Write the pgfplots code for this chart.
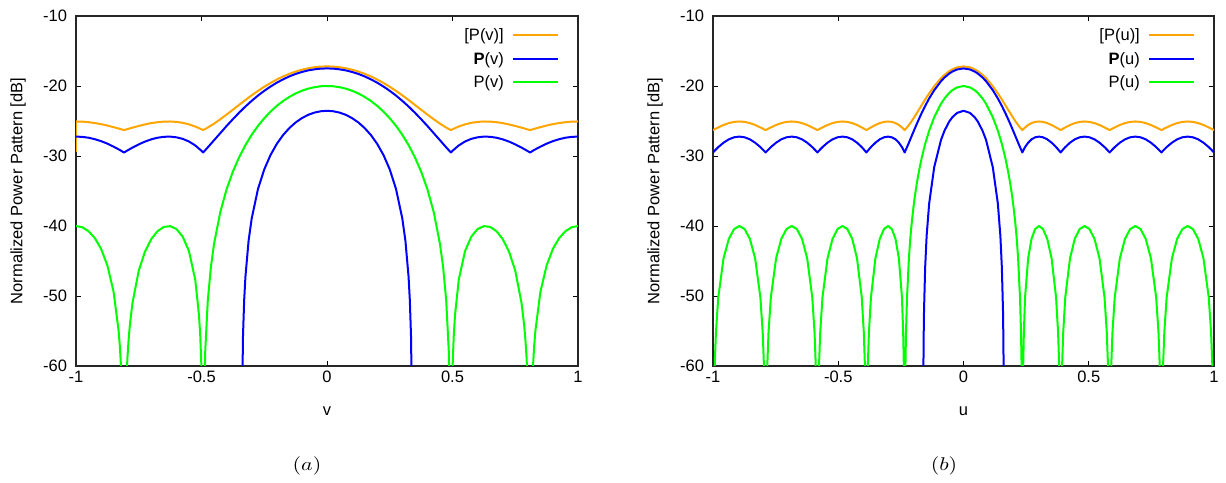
\documentclass[border=0pt]{standalone}
\usepackage[no-math]{fontspec}
\setmainfont{Liberation Sans}
\usepackage{pgfplots}
\pgfplotsset{compat=1.18}
\usepackage{pgfplotstable}
\definecolor{cOrange}{RGB}{255,165,0}
\definecolor{cBlue}{RGB}{0,0,255}
\definecolor{cGreen}{RGB}{0,255,0}

% ---------------- panel (a) ----------------
\pgfplotstableread{
x y
-1 -40.00
-0.975 -40.18
-0.95 -40.74
-0.925 -41.73
-0.9 -43.27
-0.875 -45.63
-0.85 -49.44
-0.83 -55.05
-0.825 -57.35
-0.82 -60.53
-0.815 -65.63
-0.8088 -100
-0.8 -62.65
-0.795 -58.74
-0.79 -56.05
-0.785 -54.01
-0.775 -51.00
-0.75 -46.38
-0.725 -43.64
-0.7 -41.86
-0.675 -40.73
-0.65 -40.13
-0.625 -40.02
-0.6 -40.43
-0.575 -41.51
-0.55 -43.58
-0.525 -47.66
-0.51 -52.73
-0.505 -55.68
-0.5 -60.43
-0.497 -65.63
-0.4935 -100
-0.49 -65.74
-0.485 -57.78
-0.475 -50.68
-0.4625 -45.83
-0.45 -42.55
-0.425 -37.99
-0.4 -34.75
-0.375 -32.23
-0.35 -30.17
-0.325 -28.44
-0.3 -26.97
-0.275 -25.70
-0.25 -24.61
-0.225 -23.66
-0.2 -22.84
-0.175 -22.15
-0.15 -21.56
-0.125 -21.07
-0.1 -20.68
-0.075 -20.38
-0.05 -20.17
-0.025 -20.04
0 -20.00
0.025 -20.04
0.05 -20.17
0.075 -20.38
0.1 -20.68
0.125 -21.07
0.15 -21.56
0.175 -22.15
0.2 -22.84
0.225 -23.66
0.25 -24.61
0.275 -25.70
0.3 -26.97
0.325 -28.44
0.35 -30.17
0.375 -32.23
0.4 -34.75
0.425 -37.99
0.45 -42.55
0.4625 -45.83
0.475 -50.68
0.485 -57.78
0.49 -65.74
0.4935 -100
0.497 -65.63
0.5 -60.43
0.505 -55.68
0.51 -52.73
0.525 -47.66
0.55 -43.58
0.575 -41.51
0.6 -40.43
0.625 -40.02
0.65 -40.13
0.675 -40.73
0.7 -41.86
0.725 -43.64
0.75 -46.38
0.775 -51.00
0.785 -54.01
0.79 -56.05
0.795 -58.74
0.8 -62.65
0.8088 -100
0.815 -65.63
0.82 -60.53
0.825 -57.35
0.83 -55.05
0.85 -49.44
0.875 -45.63
0.9 -43.27
0.925 -41.73
0.95 -40.74
0.975 -40.18
1 -40.00
}\tabAG

\pgfplotstableread{
x bu ou
-1 -27.23 -25.07
-0.975 -27.27 -25.09
-0.95 -27.39 -25.17
-0.925 -27.60 -25.29
-0.9 -27.88 -25.45
-0.875 -28.24 -25.65
-0.85 -28.67 -25.88
-0.825 -29.15 -26.13
-0.8088 -29.50 -26.30
-0.8 -29.31 -26.21
-0.775 -28.80 -25.95
-0.75 -28.34 -25.71
-0.725 -27.94 -25.49
-0.7 -27.62 -25.30
-0.675 -27.39 -25.17
-0.65 -27.26 -25.09
-0.625 -27.23 -25.07
-0.6 -27.33 -25.13
-0.575 -27.55 -25.26
-0.55 -27.93 -25.48
-0.525 -28.49 -25.79
-0.5 -29.26 -26.18
-0.4935 -29.50 -26.30
-0.475 -28.77 -25.94
-0.45 -27.75 -25.38
-0.425 -26.73 -24.75
-0.4 -25.71 -24.08
-0.375 -24.74 -23.39
-0.35 -23.81 -22.69
-0.325 -22.93 -22.00
-0.3 -22.12 -21.33
-0.275 -21.37 -20.70
-0.25 -20.69 -20.11
-0.225 -20.08 -19.57
-0.2 -19.53 -19.08
-0.175 -19.05 -18.64
-0.15 -18.63 -18.26
-0.125 -18.28 -17.94
-0.1 -18.00 -17.67
-0.075 -17.77 -17.47
-0.05 -17.62 -17.32
-0.025 -17.52 -17.23
0 -17.49 -17.20
0.025 -17.52 -17.23
0.05 -17.62 -17.32
0.075 -17.77 -17.47
0.1 -18.00 -17.67
0.125 -18.28 -17.94
0.15 -18.63 -18.26
0.175 -19.05 -18.64
0.2 -19.53 -19.08
0.225 -20.08 -19.57
0.25 -20.69 -20.11
0.275 -21.37 -20.70
0.3 -22.12 -21.33
0.325 -22.93 -22.00
0.35 -23.81 -22.69
0.375 -24.74 -23.39
0.4 -25.71 -24.08
0.425 -26.73 -24.75
0.45 -27.75 -25.38
0.475 -28.77 -25.94
0.4935 -29.50 -26.30
0.5 -29.26 -26.18
0.525 -28.49 -25.79
0.55 -27.93 -25.48
0.575 -27.55 -25.26
0.6 -27.33 -25.13
0.625 -27.23 -25.07
0.65 -27.26 -25.09
0.675 -27.39 -25.17
0.7 -27.62 -25.30
0.725 -27.94 -25.49
0.75 -28.34 -25.71
0.775 -28.80 -25.95
0.8 -29.31 -26.21
0.8088 -29.50 -26.30
0.825 -29.15 -26.13
0.85 -28.67 -25.88
0.875 -28.24 -25.65
0.9 -27.88 -25.45
0.925 -27.60 -25.29
0.95 -27.39 -25.17
0.975 -27.27 -25.09
1 -27.23 -25.07
}\tabAU

\pgfplotstableread{
x y
-1 -29.50
-1 -25.07
}\tabAedge

\pgfplotstableread{
x y
-0.341 -100
-0.34 -73.46
-0.335 -56.04
-0.33 -50.60
-0.325 -47.26
-0.3125 -42.14
-0.3 -38.92
-0.275 -34.72
-0.25 -31.92
-0.225 -29.86
-0.2 -28.27
-0.175 -27.01
-0.15 -26.01
-0.125 -25.21
-0.1 -24.59
-0.075 -24.12
-0.05 -23.80
-0.025 -23.61
0 -23.54
0.025 -23.61
0.05 -23.80
0.075 -24.12
0.1 -24.59
0.125 -25.21
0.15 -26.01
0.175 -27.01
0.2 -28.27
0.225 -29.86
0.25 -31.92
0.275 -34.72
0.3 -38.92
0.3125 -42.14
0.325 -47.26
0.33 -50.60
0.335 -56.04
0.34 -73.46
0.341 -100
}\tabABL

% ---------------- panel (b) ----------------
\pgfplotstableread{
x g bu ou
-1.0000 -100 -29.50 -26.30
-0.9930 -59.62 -29.23 -26.17
-0.9883 -55.21 -29.06 -26.08
-0.9790 -50.20 -28.73 -25.92
-0.9579 -44.62 -28.10 -25.57
-0.9369 -41.84 -27.62 -25.30
-0.9158 -40.44 -27.33 -25.13
-0.8948 -40.00 -27.23 -25.07
-0.8738 -40.44 -27.33 -25.13
-0.8528 -41.84 -27.62 -25.30
-0.8319 -44.62 -28.10 -25.57
-0.8109 -50.20 -28.73 -25.92
-0.8016 -55.21 -29.06 -26.08
-0.7970 -59.62 -29.23 -26.17
-0.7900 -100 -29.50 -26.30
-0.7830 -59.62 -29.23 -26.17
-0.7784 -55.21 -29.06 -26.08
-0.7691 -50.20 -28.73 -25.92
-0.7482 -44.62 -28.10 -25.57
-0.7274 -41.84 -27.62 -25.30
-0.7067 -40.44 -27.33 -25.13
-0.6859 -40.00 -27.23 -25.07
-0.6653 -40.44 -27.33 -25.13
-0.6447 -41.84 -27.62 -25.30
-0.6241 -44.62 -28.10 -25.57
-0.6037 -50.20 -28.73 -25.92
-0.5946 -55.21 -29.06 -26.08
-0.5901 -59.62 -29.23 -26.17
-0.5833 -100 -29.50 -26.30
-0.5765 -59.62 -29.23 -26.17
-0.5720 -55.21 -29.06 -26.08
-0.5630 -50.20 -28.73 -25.92
-0.5429 -44.62 -28.10 -25.57
-0.5228 -41.84 -27.62 -25.30
-0.5029 -40.44 -27.33 -25.13
-0.4832 -40.00 -27.23 -25.07
-0.4636 -40.44 -27.33 -25.13
-0.4442 -41.84 -27.62 -25.30
-0.4251 -44.62 -28.10 -25.57
-0.4062 -50.20 -28.73 -25.92
-0.3980 -55.21 -29.06 -26.08
-0.3939 -59.62 -29.23 -26.17
-0.3877 -100 -29.50 -26.30
-0.3816 -59.62 -29.23 -26.17
-0.3776 -55.21 -29.06 -26.08
-0.3695 -50.20 -28.73 -25.92
-0.3517 -44.62 -28.10 -25.57
-0.3343 -41.84 -27.62 -25.30
-0.3175 -40.44 -27.33 -25.13
-0.3014 -40.00 -27.23 -25.07
-0.2860 -40.44 -27.33 -25.13
-0.2715 -41.84 -27.62 -25.30
-0.2580 -44.62 -28.10 -25.57
-0.2457 -50.20 -28.73 -25.92
-0.2409 -55.21 -29.06 -26.08
-0.2384 -59.62 -29.23 -26.17
-0.2348 -100 -29.50 -26.30
-0.2317 -59.62 -29.23 -26.17
-0.2296 -55.21 -29.06 -26.08
-0.2255 -50.20 -28.73 -25.92
-0.2180 -44.62 -28.10 -25.57
-0.2125 -41.84 -27.62 -25.30
-0.2091 -40.44 -27.33 -25.13
-0.2079 -40.00 -27.23 -25.07
-0.2056 -39.15 -27.03 -24.94
-0.1983 -36.87 -26.41 -24.55
-0.1927 -35.38 -25.93 -24.23
-0.1856 -33.73 -25.34 -23.82
-0.1768 -31.98 -24.63 -23.31
-0.1661 -30.15 -23.80 -22.68
-0.1531 -28.28 -22.85 -21.93
-0.1371 -26.38 -21.78 -21.05
-0.1169 -24.46 -20.60 -20.03
-0.0898 -22.53 -19.31 -18.88
-0.0753 -21.75 -18.77 -18.39
-0.0567 -20.98 -18.21 -17.87
-0.0442 -20.59 -17.93 -17.61
-0.0259 -20.20 -17.64 -17.34
0.0000 -20.00 -17.49 -17.20
0.0259 -20.20 -17.64 -17.34
0.0442 -20.59 -17.93 -17.61
0.0567 -20.98 -18.21 -17.87
0.0753 -21.75 -18.77 -18.39
0.0898 -22.53 -19.31 -18.88
0.1169 -24.46 -20.60 -20.03
0.1371 -26.38 -21.78 -21.05
0.1531 -28.28 -22.85 -21.93
0.1661 -30.15 -23.80 -22.68
0.1768 -31.98 -24.63 -23.31
0.1856 -33.73 -25.34 -23.82
0.1927 -35.38 -25.93 -24.23
0.1983 -36.87 -26.41 -24.55
0.2056 -39.15 -27.03 -24.94
0.2079 -40.00 -27.23 -25.07
0.2091 -40.44 -27.33 -25.13
0.2125 -41.84 -27.62 -25.30
0.2180 -44.62 -28.10 -25.57
0.2255 -50.20 -28.73 -25.92
0.2296 -55.21 -29.06 -26.08
0.2317 -59.62 -29.23 -26.17
0.2348 -100 -29.50 -26.30
0.2384 -59.62 -29.23 -26.17
0.2409 -55.21 -29.06 -26.08
0.2457 -50.20 -28.73 -25.92
0.2580 -44.62 -28.10 -25.57
0.2715 -41.84 -27.62 -25.30
0.2860 -40.44 -27.33 -25.13
0.3014 -40.00 -27.23 -25.07
0.3175 -40.44 -27.33 -25.13
0.3343 -41.84 -27.62 -25.30
0.3517 -44.62 -28.10 -25.57
0.3695 -50.20 -28.73 -25.92
0.3776 -55.21 -29.06 -26.08
0.3816 -59.62 -29.23 -26.17
0.3877 -100 -29.50 -26.30
0.3939 -59.62 -29.23 -26.17
0.3980 -55.21 -29.06 -26.08
0.4062 -50.20 -28.73 -25.92
0.4251 -44.62 -28.10 -25.57
0.4442 -41.84 -27.62 -25.30
0.4636 -40.44 -27.33 -25.13
0.4832 -40.00 -27.23 -25.07
0.5029 -40.44 -27.33 -25.13
0.5228 -41.84 -27.62 -25.30
0.5429 -44.62 -28.10 -25.57
0.5630 -50.20 -28.73 -25.92
0.5720 -55.21 -29.06 -26.08
0.5765 -59.62 -29.23 -26.17
0.5833 -100 -29.50 -26.30
0.5901 -59.62 -29.23 -26.17
0.5946 -55.21 -29.06 -26.08
0.6037 -50.20 -28.73 -25.92
0.6241 -44.62 -28.10 -25.57
0.6447 -41.84 -27.62 -25.30
0.6653 -40.44 -27.33 -25.13
0.6859 -40.00 -27.23 -25.07
0.7067 -40.44 -27.33 -25.13
0.7274 -41.84 -27.62 -25.30
0.7482 -44.62 -28.10 -25.57
0.7691 -50.20 -28.73 -25.92
0.7784 -55.21 -29.06 -26.08
0.7830 -59.62 -29.23 -26.17
0.7900 -100 -29.50 -26.30
0.7970 -59.62 -29.23 -26.17
0.8016 -55.21 -29.06 -26.08
0.8109 -50.20 -28.73 -25.92
0.8319 -44.62 -28.10 -25.57
0.8528 -41.84 -27.62 -25.30
0.8738 -40.44 -27.33 -25.13
0.8948 -40.00 -27.23 -25.07
0.9158 -40.44 -27.33 -25.13
0.9369 -41.84 -27.62 -25.30
0.9579 -44.62 -28.10 -25.57
0.9790 -50.20 -28.73 -25.92
0.9883 -55.21 -29.06 -26.08
0.9930 -59.62 -29.23 -26.17
1.0000 -100 -29.50 -26.30
}\tabB

\pgfplotstableread{
x y
-0.1619 -100
-0.1610 -66.02
-0.1593 -56.48
-0.1576 -52.04
-0.1531 -45.95
-0.1472 -41.41
-0.1371 -36.79
-0.1169 -31.59
-0.0898 -27.69
-0.0753 -26.34
-0.0567 -25.06
-0.0442 -24.45
-0.0259 -23.85
0 -23.54
0.0259 -23.85
0.0442 -24.45
0.0567 -25.06
0.0753 -26.34
0.0898 -27.69
0.1169 -31.59
0.1371 -36.79
0.1472 -41.41
0.1531 -45.95
0.1576 -52.04
0.1593 -56.48
0.1610 -66.02
0.1619 -100
}\tabBBL

\pgfplotsset{
  myaxis/.style={
    scale only axis, height=350bp,
    xmin=-1, xmax=1, ymin=-60, ymax=-10,
    xtick={-1,-0.5,0,0.5,1}, xticklabels={-1,-0.5,0,0.5,1},
    ytick={-60,-50,-40,-30,-20,-10}, yticklabels={-60,-50,-40,-30,-20,-10},
    tick align=inside, major tick length=5bp,
    every tick/.style={black, line width=0.9bp},
    axis line style={black!85, line width=1.2bp},
    font=\fontsize{16.5bp}{19bp}\selectfont,
    xticklabel style={yshift=-1.5bp},
    yticklabel style={xshift=-5.5bp},
    ylabel={Normalized Power Pattern [dB]},
    ylabel style={at={([xshift=-58bp]axis description cs:0,0.5)}, anchor=center},
    xlabel style={at={(axis description cs:0.5,0)}, anchor=center, yshift=-45bp},
    legend style={at={(1,1)}, anchor=north east, xshift=-16bp, yshift=-8.5bp,
      draw=none, fill=none, row sep=6bp, column sep=6bp,
      font=\fontsize{16.5bp}{19bp}\selectfont},
    legend cell align=right, legend plot pos=right,
    legend image code/.code={\draw[#1] (0bp,0bp) -- (45bp,0bp);},
    every axis plot/.append style={line width=2bp, line join=round},
  }
}

\begin{document}
\begin{tikzpicture}
\useasboundingbox (0,0) rectangle (1226bp,483bp);
\begin{axis}[myaxis, width=502bp, at={(76bp,117bp)}, anchor=south west, xlabel={v}]
  \addplot[cOrange] table[x=x, y=ou] {\tabAU};
  \addlegendentry{[P(v)]}
  \addplot[cOrange, forget plot] table[x=x, y=y] {\tabAedge};
  \addplot[cBlue] table[x=x, y=bu] {\tabAU};
  \addlegendentry{\textbf{P}(v)}
  \addplot[cBlue, forget plot] table[x=x, y=y] {\tabABL};
  \addplot[cGreen] table[x=x, y=y] {\tabAG};
  \addlegendentry{P(v)}
\end{axis}
\begin{axis}[myaxis, width=501bp, at={(713bp,117bp)}, anchor=south west, xlabel={u}]
  \addplot[cOrange] table[x=x, y=ou] {\tabB};
  \addlegendentry{[P(u)]}
  \addplot[cBlue] table[x=x, y=bu] {\tabB};
  \addlegendentry{\textbf{P}(u)}
  \addplot[cBlue, forget plot] table[x=x, y=y] {\tabBBL};
  \addplot[cGreen] table[x=x, y=g] {\tabB};
  \addlegendentry{P(u)}
\end{axis}
\node at (307bp,17bp) {\scalebox{2.2}[1.85]{$(a)$}};
\node at (944bp,17bp) {\scalebox{2.2}[1.85]{$(b)$}};
\end{tikzpicture}
\end{document}
